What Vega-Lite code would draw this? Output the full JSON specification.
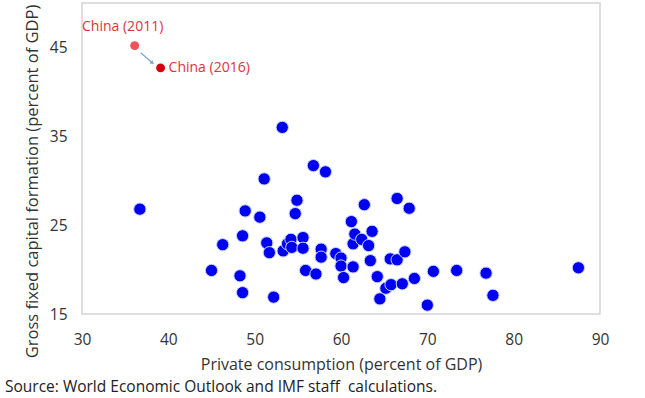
{
  "$schema": "https://vega.github.io/schema/vega-lite/v6.json",
  "width": 518,
  "height": 311,
  "autosize": {"type": "none"},
  "padding": {"left": 82, "top": 3, "right": 45, "bottom": 84},
  "background": "white",
  "config": {
    "view": {"stroke": "#d4d4d4", "strokeWidth": 1.5},
    "font": "Open Sans",
    "axis": {"domain": false, "ticks": false, "grid": false, "labelFlush": false, "labelFont": "Open Sans", "titleFont": "Open Sans", "labelColor": "#333333", "titleColor": "#333333", "titleFontWeight": "normal", "labelFontSize": 15.5}
  },
  "title": {
    "text": "Source: World Economic Outlook and IMF staff\u00a0 calculations.",
    "orient": "bottom",
    "anchor": "start",
    "frame": "group",
    "dx": -77,
    "offset": 7,
    "fontSize": 15.5,
    "font": "Open Sans",
    "fontWeight": "normal",
    "color": "#222222"
  },
  "datasets": {
    "others": [
      {"c": 36.7, "g": 26.8}, {"c": 45.0, "g": 19.9}, {"c": 46.3, "g": 22.8}, {"c": 48.3, "g": 19.3},
      {"c": 48.6, "g": 17.4}, {"c": 48.6, "g": 23.8}, {"c": 48.9, "g": 26.6}, {"c": 50.6, "g": 25.9},
      {"c": 51.1, "g": 30.2}, {"c": 51.4, "g": 23.0}, {"c": 51.7, "g": 21.9}, {"c": 52.2, "g": 16.9},
      {"c": 53.2, "g": 36.0}, {"c": 53.3, "g": 22.1}, {"c": 53.8, "g": 22.9}, {"c": 54.2, "g": 23.4},
      {"c": 54.3, "g": 22.5}, {"c": 54.7, "g": 26.3}, {"c": 54.9, "g": 27.8}, {"c": 55.6, "g": 23.6},
      {"c": 55.6, "g": 22.4}, {"c": 55.9, "g": 19.9}, {"c": 56.8, "g": 31.7}, {"c": 57.1, "g": 19.5},
      {"c": 57.7, "g": 22.3}, {"c": 57.7, "g": 21.4}, {"c": 58.2, "g": 31.0}, {"c": 59.4, "g": 21.8},
      {"c": 60.0, "g": 21.3}, {"c": 60.0, "g": 20.4}, {"c": 60.3, "g": 19.1}, {"c": 61.2, "g": 25.4},
      {"c": 61.4, "g": 20.3}, {"c": 61.4, "g": 22.9}, {"c": 61.6, "g": 24.0}, {"c": 62.4, "g": 23.4},
      {"c": 62.7, "g": 27.3}, {"c": 63.2, "g": 22.7}, {"c": 63.4, "g": 21.0}, {"c": 63.6, "g": 24.3},
      {"c": 64.2, "g": 19.2}, {"c": 64.5, "g": 16.7}, {"c": 65.2, "g": 17.9}, {"c": 65.7, "g": 21.2},
      {"c": 65.8, "g": 18.3}, {"c": 66.5, "g": 21.1}, {"c": 66.5, "g": 28.0}, {"c": 67.1, "g": 18.4},
      {"c": 67.4, "g": 22.0}, {"c": 67.9, "g": 26.9}, {"c": 68.5, "g": 19.0}, {"c": 70.0, "g": 16.0},
      {"c": 70.7, "g": 19.8}, {"c": 73.4, "g": 19.9}, {"c": 76.8, "g": 19.6}, {"c": 77.6, "g": 17.1},
      {"c": 87.5, "g": 20.2}
    ],
    "china": [
      {"c": 36.1, "g": 45.2, "label": "China (2011)"},
      {"c": 39.1, "g": 42.7, "label": "China (2016)"}
    ],
    "arrow": [
      {"c": 36.8, "g": 44.4, "c2": 38.1, "g2": 43.3}
    ]
  },
  "layer": [
    {
      "data": {"name": "others"},
      "mark": {"type": "circle", "size": 150, "color": "#0000f0", "opacity": 1, "stroke": "#c8d4ff", "strokeWidth": 1},
      "encoding": {
        "x": {"field": "c", "type": "quantitative", "scale": {"domain": [30, 90], "nice": false, "zero": false},
          "axis": {"values": [30, 40, 50, 60, 70, 80, 90], "title": "Private consumption (percent of GDP)", "titleFontSize": 16, "labelPadding": 18, "titlePadding": 9}},
        "y": {"field": "g", "type": "quantitative", "scale": {"domain": [15, 50], "nice": false, "zero": false},
          "axis": {"values": [15, 25, 35, 45], "title": "Gross fixed capital formation (percent of GDP)", "titleFontSize": 16.5, "titleY": 178, "labelPadding": 15, "titlePadding": 9}}
      }
    },
    {
      "data": {"name": "arrow"},
      "mark": {"type": "rule", "color": "#7fa6c8", "strokeWidth": 1.2},
      "encoding": {
        "x": {"field": "c", "type": "quantitative"},
        "y": {"field": "g", "type": "quantitative"},
        "x2": {"field": "c2"},
        "y2": {"field": "g2"}
      }
    },
    {
      "data": {"name": "arrow"},
      "mark": {"type": "point", "shape": "triangle", "filled": true, "size": 20, "angle": 128, "color": "#7fa6c8", "opacity": 1},
      "encoding": {
        "x": {"field": "c2", "type": "quantitative"},
        "y": {"field": "g2", "type": "quantitative"}
      }
    },
    {
      "data": {"name": "china"},
      "mark": {"type": "circle", "size": 80, "opacity": 1},
      "encoding": {
        "x": {"field": "c", "type": "quantitative"},
        "y": {"field": "g", "type": "quantitative"},
        "color": {"field": "label", "type": "nominal", "scale": {"domain": ["China (2011)", "China (2016)"], "range": ["#f0525a", "#d40010"]}, "legend": null}
      }
    },
    {
      "data": {"name": "china"},
      "transform": [{"filter": "datum.label == 'China (2011)'"}],
      "mark": {"type": "text", "align": "center", "baseline": "middle", "dx": -12, "dy": -19, "fontSize": 14, "color": "#e0323c", "font": "Open Sans"},
      "encoding": {
        "x": {"field": "c", "type": "quantitative"},
        "y": {"field": "g", "type": "quantitative"},
        "text": {"field": "label"}
      }
    },
    {
      "data": {"name": "china"},
      "transform": [{"filter": "datum.label == 'China (2016)'"}],
      "mark": {"type": "text", "align": "left", "baseline": "middle", "dx": 8, "dy": 0, "fontSize": 14, "color": "#e0323c", "font": "Open Sans"},
      "encoding": {
        "x": {"field": "c", "type": "quantitative"},
        "y": {"field": "g", "type": "quantitative"},
        "text": {"field": "label"}
      }
    }
  ]
}
